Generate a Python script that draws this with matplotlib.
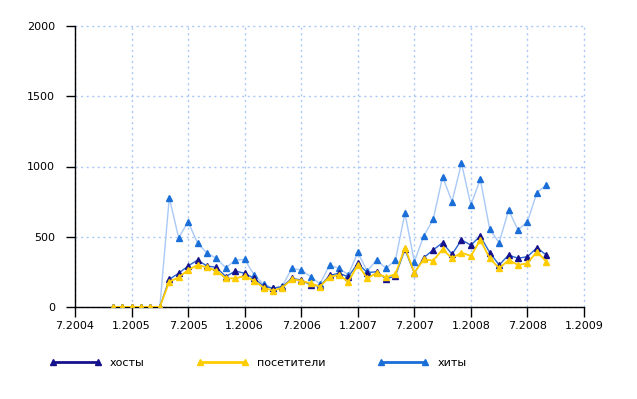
import numpy as np
import pandas as pd
import matplotlib
matplotlib.use("Agg")
import matplotlib.pyplot as plt
from matplotlib.lines import Line2D

# months Nov 2004 .. Sep 2008
months = pd.period_range("2004-11", "2008-09", freq="M")

hosts = [0, 0, 0, 0, 0, 0,
         197, 240, 292, 334, 292, 282, 216, 256,
         240, 204, 149, 133, 145, 204, 192, 157, 149, 225, 240, 215,
         311, 245, 251, 200, 222, 410, 240, 352, 406, 458, 375, 477,
         441, 505, 387, 299, 370, 347, 358, 422, 370]

visitors = [0, 0, 0, 0, 0, 0,
            180, 211, 263, 299, 282, 258, 204, 204,
            220, 187, 138, 116, 138, 197, 187, 168, 145, 215, 228, 180,
            300, 205, 242, 210, 235, 422, 245, 339, 330, 410, 347, 387,
            363, 477, 347, 275, 334, 299, 311, 394, 323]

hits = [0, 0, 0, 0, 0, 0,
        778, 493, 607, 455, 384, 347, 278, 334,
        339, 228, 164, 133, 149, 275, 263, 216, 164, 299, 275, 230,
        388, 255, 335, 275, 335, 667, 323, 505, 624, 927, 750, 1023,
        726, 909, 553, 458, 690, 548, 607, 814, 868]

tick_labels = ["7.2004", "1.2005", "7.2005", "1.2006", "7.2006",
               "1.2007", "7.2007", "1.2008", "7.2008", "1.2009"]
y_ticks = [0, 500, 1000, 1500, 2000]

# month index counted from July 2004
x = np.array([(p.year - 2004) * 12 + p.month - 7 for p in months])

navy = "#16128c"
yellow = "#ffcc00"
blue = "#1a6ed8"
light = "#a9c9f7"

fig = plt.figure(figsize=(6.37, 3.99), dpi=100)
ax = fig.add_axes([75 / 637, 1 - 307 / 399, (584 - 75) / 637, (307 - 26) / 399])

ax.plot(x, hits, color=light, lw=1, marker="^", ms=5, mfc=blue, mec=blue, zorder=3)
ax.plot(x, hosts, color="#2a66d0", lw=1, marker="^", ms=5, mfc=navy, mec=navy, zorder=4)
ax.plot(x, visitors, color=yellow, lw=1.3, marker="^", ms=5, mfc=yellow, mec=yellow, zorder=5)

ax.set_xlim(0, 54)
ax.set_ylim(0, 2000)
ax.set_xticks(np.arange(0, 55, 6))
ax.set_xticklabels(tick_labels)
ax.set_yticks(y_ticks)
ax.tick_params(labelsize=8, width=1, color="black", direction="out")
ax.tick_params(axis="x", length=7, pad=3)
ax.tick_params(axis="y", length=6.5, pad=8)

for s in ["top", "right"]:
    ax.spines[s].set_visible(False)
for s in ["left", "bottom"]:
    ax.spines[s].set_linewidth(1)

ax.grid(True, color="#aac8f5", linestyle=(0, (1.5, 2.5)), lw=1)
for gl in ax.get_xgridlines() + ax.get_ygridlines():
    gl.set_clip_on(False)
ax.set_axisbelow(True)

handles = [
    Line2D([], [], color=navy, lw=2, marker="^", ms=5, mfc=navy, mec=navy),
    Line2D([], [], color=yellow, lw=2, marker="^", ms=5, mfc=yellow, mec=yellow),
    Line2D([], [], color=blue, lw=2, marker="^", ms=5, mfc=blue, mec=blue),
]
fig.legend(handles, ["хосты", "посетители", "хиты"], loc="center left",
           bbox_to_anchor=(50 / 637, 1 - 363 / 399), ncol=3, frameon=False,
           numpoints=2, handlelength=4.6, handletextpad=0.8, columnspacing=4.7,
           borderpad=0, borderaxespad=0, fontsize=8)

fig.savefig("out.png", dpi=100)
